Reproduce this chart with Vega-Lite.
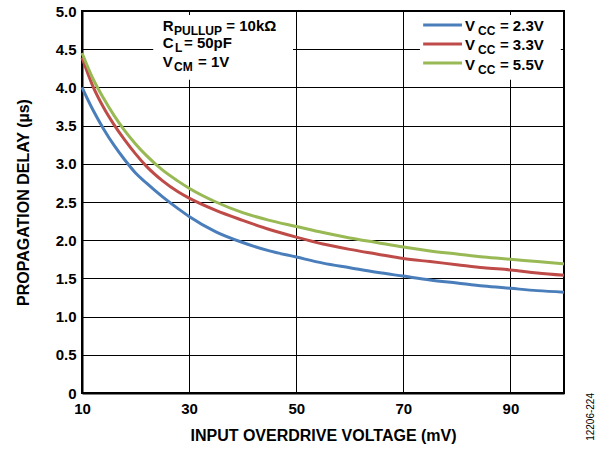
{
  "$schema": "https://vega.github.io/schema/vega-lite/v6.json",
  "width": 482,
  "height": 382,
  "autosize": {"type": "none"},
  "padding": {"left": 82, "top": 11, "right": 36, "bottom": 57},
  "background": "white",
  "title": {"text": "12206-224", "orient": "right", "anchor": "end", "frame": "group", "angle": -90, "fontSize": 10, "fontWeight": "normal", "font": "Liberation Sans", "color": "#000", "offset": 6},
  "config": {
    "font": "Liberation Sans",
    "view": {"stroke": "#000", "strokeWidth": 2},
    "axis": {
      "domainColor": "#000", "domainWidth": 2, "ticks": false,
      "gridColor": "#000", "gridOpacity": 1, "gridWidth": 1,
      "labelOverlap": false,
      "labelFont": "Liberation Sans", "labelFontWeight": "bold", "labelFontSize": 15, "labelColor": "#000",
      "titleFont": "Liberation Sans", "titleFontWeight": "bold", "titleFontSize": 16, "titleColor": "#000"
    }
  },
  "datasets": {
    "curves": [
      {"series": "2.3", "x": 10, "y": 4.0}, {"series": "2.3", "x": 12, "y": 3.71}, {"series": "2.3", "x": 14, "y": 3.46}, {"series": "2.3", "x": 16, "y": 3.24}, {"series": "2.3", "x": 18, "y": 3.05}, {"series": "2.3", "x": 20, "y": 2.88}, {"series": "2.3", "x": 22, "y": 2.75}, {"series": "2.3", "x": 25, "y": 2.57}, {"series": "2.3", "x": 28, "y": 2.41}, {"series": "2.3", "x": 30, "y": 2.31}, {"series": "2.3", "x": 35, "y": 2.11}, {"series": "2.3", "x": 40, "y": 1.97}, {"series": "2.3", "x": 45, "y": 1.86}, {"series": "2.3", "x": 50, "y": 1.78}, {"series": "2.3", "x": 55, "y": 1.7}, {"series": "2.3", "x": 60, "y": 1.64}, {"series": "2.3", "x": 65, "y": 1.58}, {"series": "2.3", "x": 70, "y": 1.53}, {"series": "2.3", "x": 75, "y": 1.48}, {"series": "2.3", "x": 80, "y": 1.44}, {"series": "2.3", "x": 85, "y": 1.4}, {"series": "2.3", "x": 90, "y": 1.37}, {"series": "2.3", "x": 95, "y": 1.34}, {"series": "2.3", "x": 100, "y": 1.32},
      {"series": "3.3", "x": 10, "y": 4.39}, {"series": "3.3", "x": 12, "y": 4.02}, {"series": "3.3", "x": 14, "y": 3.74}, {"series": "3.3", "x": 16, "y": 3.51}, {"series": "3.3", "x": 18, "y": 3.31}, {"series": "3.3", "x": 20, "y": 3.13}, {"series": "3.3", "x": 22, "y": 2.97}, {"series": "3.3", "x": 25, "y": 2.78}, {"series": "3.3", "x": 28, "y": 2.63}, {"series": "3.3", "x": 30, "y": 2.55}, {"series": "3.3", "x": 35, "y": 2.39}, {"series": "3.3", "x": 40, "y": 2.26}, {"series": "3.3", "x": 45, "y": 2.14}, {"series": "3.3", "x": 50, "y": 2.04}, {"series": "3.3", "x": 55, "y": 1.95}, {"series": "3.3", "x": 60, "y": 1.88}, {"series": "3.3", "x": 65, "y": 1.82}, {"series": "3.3", "x": 70, "y": 1.76}, {"series": "3.3", "x": 75, "y": 1.72}, {"series": "3.3", "x": 80, "y": 1.68}, {"series": "3.3", "x": 85, "y": 1.64}, {"series": "3.3", "x": 90, "y": 1.61}, {"series": "3.3", "x": 95, "y": 1.57}, {"series": "3.3", "x": 100, "y": 1.54},
      {"series": "5.5", "x": 10, "y": 4.45}, {"series": "5.5", "x": 12, "y": 4.12}, {"series": "5.5", "x": 14, "y": 3.86}, {"series": "5.5", "x": 16, "y": 3.63}, {"series": "5.5", "x": 18, "y": 3.43}, {"series": "5.5", "x": 20, "y": 3.26}, {"series": "5.5", "x": 22, "y": 3.11}, {"series": "5.5", "x": 25, "y": 2.92}, {"series": "5.5", "x": 28, "y": 2.77}, {"series": "5.5", "x": 30, "y": 2.68}, {"series": "5.5", "x": 35, "y": 2.5}, {"series": "5.5", "x": 40, "y": 2.36}, {"series": "5.5", "x": 45, "y": 2.26}, {"series": "5.5", "x": 50, "y": 2.18}, {"series": "5.5", "x": 55, "y": 2.1}, {"series": "5.5", "x": 60, "y": 2.03}, {"series": "5.5", "x": 65, "y": 1.97}, {"series": "5.5", "x": 70, "y": 1.91}, {"series": "5.5", "x": 75, "y": 1.86}, {"series": "5.5", "x": 80, "y": 1.82}, {"series": "5.5", "x": 85, "y": 1.78}, {"series": "5.5", "x": 90, "y": 1.75}, {"series": "5.5", "x": 95, "y": 1.72}, {"series": "5.5", "x": 100, "y": 1.69}
    ],
    "boxes": [
      {"x": 23.3, "x2": 49.4, "y": 4.948, "y2": 4.1},
      {"x": 73.1, "x2": 99.4, "y": 4.948, "y2": 4.1}
    ],
    "legendLines": [
      {"series": "2.3", "x": 73.7, "x2": 80.95, "y": 4.817},
      {"series": "3.3", "x": 73.7, "x2": 80.95, "y": 4.568},
      {"series": "5.5", "x": 73.7, "x2": 80.95, "y": 4.319}
    ],
    "mainText": [
      {"x": 25.07, "y": 4.738, "t": "R"},
      {"x": 36.95, "y": 4.738, "t": "= 10kΩ"},
      {"x": 25.07, "y": 4.512, "t": "C"},
      {"x": 29.04, "y": 4.512, "t": "= 50pF"},
      {"x": 25.07, "y": 4.271, "t": "V"},
      {"x": 31.66, "y": 4.271, "t": "= 1V"},
      {"x": 81.51, "y": 4.742, "t": "V"},
      {"x": 88.04, "y": 4.742, "t": "= 2.3V"},
      {"x": 81.51, "y": 4.49, "t": "V"},
      {"x": 88.04, "y": 4.49, "t": "= 3.3V"},
      {"x": 81.51, "y": 4.228, "t": "V"},
      {"x": 88.04, "y": 4.228, "t": "= 5.5V"}
    ],
    "subText": [
      {"x": 27.18, "y": 4.738, "t": "PULLUP"},
      {"x": 27.36, "y": 4.512, "t": "L"},
      {"x": 27.18, "y": 4.271, "t": "CM"},
      {"x": 83.94, "y": 4.742, "t": "CC"},
      {"x": 83.94, "y": 4.49, "t": "CC"},
      {"x": 83.94, "y": 4.228, "t": "CC"}
    ]
  },
  "layer": [
    {
      "data": {"name": "boxes"},
      "mark": {"type": "rect", "fill": "white", "stroke": null},
      "encoding": {
        "x": {"field": "x", "type": "quantitative", "scale": {"domain": [10, 100], "nice": false, "zero": false},
              "axis": {"values": [10, 30, 50, 70, 90], "tickCount": 20, "title": "INPUT OVERDRIVE VOLTAGE (mV)", "labelPadding": 8, "titlePadding": 11, "labelFlush": false}},
        "x2": {"field": "x2"},
        "y": {"field": "y", "type": "quantitative", "scale": {"domain": [0, 5], "nice": false},
              "axis": {"values": [0, 0.5, 1, 1.5, 2, 2.5, 3, 3.5, 4, 4.5, 5], "tickCount": 20, "title": "PROPAGATION DELAY (µs)", "labelExpr": "datum.value == 0 ? '0' : format(datum.value, '.1f')", "labelPadding": 6, "titlePadding": 24}},
        "y2": {"field": "y2"}
      }
    },
    {
      "data": {"name": "curves"},
      "mark": {"type": "line", "interpolate": "monotone", "strokeWidth": 3},
      "encoding": {
        "x": {"field": "x", "type": "quantitative"},
        "y": {"field": "y", "type": "quantitative"},
        "color": {"field": "series", "type": "nominal", "scale": {"domain": ["2.3", "3.3", "5.5"], "range": ["#4a7ebb", "#be4b48", "#98b954"]}, "legend": null}
      }
    },
    {
      "data": {"name": "legendLines"},
      "mark": {"type": "rule", "strokeWidth": 3},
      "encoding": {
        "x": {"field": "x", "type": "quantitative"},
        "x2": {"field": "x2"},
        "y": {"field": "y", "type": "quantitative"},
        "color": {"field": "series", "type": "nominal", "legend": null}
      }
    },
    {
      "data": {"name": "mainText"},
      "mark": {"type": "text", "align": "left", "baseline": "alphabetic", "font": "Liberation Sans", "fontWeight": "bold", "fontSize": 15, "color": "#000"},
      "encoding": {
        "x": {"field": "x", "type": "quantitative"},
        "y": {"field": "y", "type": "quantitative"},
        "text": {"field": "t", "type": "nominal"}
      }
    },
    {
      "data": {"name": "subText"},
      "mark": {"type": "text", "align": "left", "baseline": "alphabetic", "font": "Liberation Sans", "fontWeight": "bold", "fontSize": 12, "dy": 4, "color": "#000"},
      "encoding": {
        "x": {"field": "x", "type": "quantitative"},
        "y": {"field": "y", "type": "quantitative"},
        "text": {"field": "t", "type": "nominal"}
      }
    }
  ]
}
